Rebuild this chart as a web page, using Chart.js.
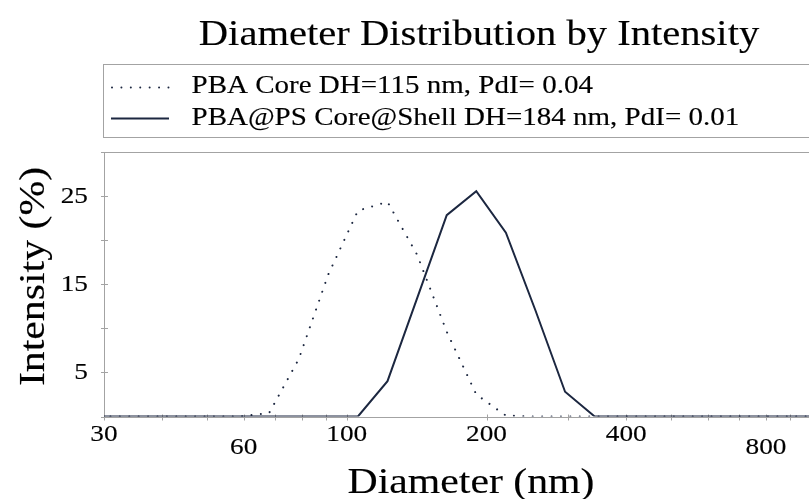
<!DOCTYPE html>
<html>
<head>
<meta charset="utf-8">
<script src="https://cdn.jsdelivr.net/npm/chart.js@4.4.1/dist/chart.umd.min.js"></script>
<style>
  html, body { margin: 0; padding: 0; background: #fff; overflow: hidden; }
  #wrap { width: 815px; height: 499px; }
</style>
</head>
<body>
<div id="wrap"><canvas id="dls" width="815" height="499"></canvas></div>
<script>
// size classes (nm) and intensity (%)
const sizeBins = [28.21, 32.67, 37.84, 43.82, 50.75, 58.77, 68.06, 78.82, 91.28, 105.7, 122.4, 141.8, 164.2,
                  190.1, 220.2, 255.0, 295.3, 342.0, 396.1, 458.7, 531.2, 615.1, 712.4, 825.0, 955.4, 1106];
const coreIntensity  = [0, 0, 0, 0, 0, 0, 0.4, 6.5, 16.1, 23.3, 24.3, 18.3, 9.6, 2.5, 0.1, 0, 0, 0, 0, 0, 0, 0, 0, 0, 0, 0];
const shellIntensity = [0, 0, 0, 0, 0, 0, 0, 0, 0, 0, 4.0, 13.4, 22.8, 25.5, 20.8, 12.0, 2.8, 0, 0, 0, 0, 0, 0, 0, 0, 0];

const seriesLabels = ['PBA Core DH=115 nm, PdI= 0.04', 'PBA@PS Core@Shell DH=184 nm, PdI= 0.01'];
const xTickValues = [30, 40, 50, 60, 70, 80, 90, 100, 200, 300, 400, 500, 600, 700, 800, 900, 1000];
const xTickLabels = [30, 60, 100, 200, 400, 800];
const xLowLabels = [60, 800]; // these sit one row lower
const yTickValues = [0, 5, 10, 15, 20, 25, 30];
const yTickLabels = [5, 15, 25];

const SERIF = '"Liberation Serif", "Times New Roman", serif';
const STRETCH = 1.16; // the original face is wider than Times
const lineColor = '#1c2740';
const frameColor = '#a3a3a3';

function drawText(ctx, s, x, y, size, align) {
  ctx.save();
  ctx.font = size + 'px ' + SERIF;
  ctx.textAlign = 'left';
  ctx.textBaseline = 'alphabetic';
  ctx.fillStyle = '#000';
  ctx.strokeStyle = '#000';
  ctx.lineWidth = 0.15;
  const w = ctx.measureText(s).width * STRETCH;
  const left = align === 'center' ? x - w / 2 : (align === 'right' ? x - w : x);
  ctx.translate(left, y);
  ctx.scale(STRETCH, 1);
  ctx.fillText(s, 0, 0);
  ctx.strokeText(s, 0, 0);
  ctx.restore();
}

const framePlugin = {
  id: 'frame',
  beforeDatasetsDraw(chart) {
    const { ctx, chartArea: a, scales: { x, y } } = chart;
    ctx.save();
    ctx.strokeStyle = frameColor;
    ctx.lineWidth = 1;
    ctx.strokeRect(Math.round(a.left) + 0.5, Math.round(a.top) + 0.5, a.right - a.left, a.bottom - a.top);
    ctx.beginPath();
    yTickValues.forEach(v => {
      const py = Math.round(y.getPixelForValue(v)) + 0.5;
      ctx.moveTo(a.left - 3, py);
      ctx.lineTo(a.left + 4, py);
    });
    xTickValues.forEach(v => {
      const px = Math.round(x.getPixelForValue(v)) + 0.5;
      ctx.moveTo(px, a.bottom - 2);
      ctx.lineTo(px, a.bottom + 4);
    });
    ctx.stroke();
    ctx.restore();
  },
  afterDraw(chart) {
    const { ctx, scales: { x, y } } = chart;

    drawText(ctx, 'Diameter Distribution by Intensity', 479, 45, 35, 'center');

    // legend box
    ctx.save();
    ctx.strokeStyle = frameColor;
    ctx.lineWidth = 1;
    ctx.strokeRect(103.5, 64.5, 720, 73);
    ctx.strokeStyle = lineColor;
    ctx.lineWidth = 2;
    ctx.lineCap = 'round';
    ctx.setLineDash([0.01, 9.4]);
    ctx.beginPath();
    ctx.moveTo(112, 87.5);
    ctx.lineTo(169, 87.5);
    ctx.stroke();
    ctx.setLineDash([]);
    ctx.lineCap = 'butt';
    ctx.beginPath();
    ctx.moveTo(111, 118.5);
    ctx.lineTo(169, 118.5);
    ctx.stroke();
    ctx.restore();
    drawText(ctx, seriesLabels[0], 191.5, 92.5, 25, 'left');
    drawText(ctx, seriesLabels[1], 191.5, 125, 25, 'left');

    // tick labels
    yTickLabels.forEach(v => {
      drawText(ctx, String(v), 88, y.getPixelForValue(v) + 7, 23.5, 'right');
    });
    xTickLabels.forEach(v => {
      const low = xLowLabels.includes(v);
      drawText(ctx, String(v), x.getPixelForValue(v), low ? 454 : 441, 23.5, 'center');
    });

    // axis titles
    drawText(ctx, 'Diameter (nm)', 471, 493, 36, 'center');
    ctx.save();
    ctx.translate(43.5, 276.5);
    ctx.rotate(-Math.PI / 2);
    drawText(ctx, 'Intensity (%)', 0, 0, 36, 'center');
    ctx.restore();
  }
};

const toPoints = vals => sizeBins.map((s, i) => ({ x: s, y: vals[i] }));

new Chart(document.getElementById('dls'), {
  type: 'line',
  data: {
    datasets: [
      {
        label: seriesLabels[0],
        data: toPoints(coreIntensity),
        borderColor: lineColor,
        borderWidth: 2,
        borderDash: [0.01, 9.4],
        borderCapStyle: 'round',
        pointRadius: 0,
        tension: 0,
        fill: false
      },
      {
        label: seriesLabels[1],
        data: toPoints(shellIntensity),
        borderColor: lineColor,
        borderWidth: 2,
        pointRadius: 0,
        tension: 0,
        fill: false
      }
    ]
  },
  options: {
    responsive: false,
    animation: false,
    devicePixelRatio: 1,
    layout: { padding: { left: 104, top: 151.5, right: 4, bottom: 82.5 } },
    plugins: {
      legend: { display: false },
      title: { display: false },
      tooltip: { enabled: false }
    },
    scales: {
      x: {
        type: 'logarithmic',
        min: 30,
        max: 1000,
        grid: { display: false, drawTicks: false },
        border: { display: false },
        ticks: { display: false },
        afterBuildTicks(s) { s.ticks = xTickValues.map(v => ({ value: v })); },
        afterFit(s) { s.height = 0; }
      },
      y: {
        type: 'linear',
        min: 0,
        max: 30,
        grid: { display: false, drawTicks: false },
        border: { display: false },
        ticks: { display: false },
        afterBuildTicks(s) { s.ticks = yTickValues.map(v => ({ value: v })); },
        afterFit(s) { s.width = 0; }
      }
    }
  },
  plugins: [framePlugin]
});
</script>
</body>
</html>
